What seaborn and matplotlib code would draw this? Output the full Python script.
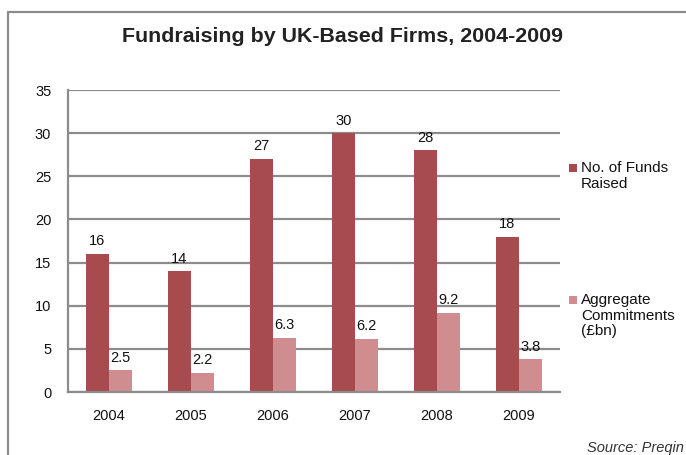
import matplotlib
matplotlib.use("Agg")
import matplotlib.pyplot as plt
from matplotlib.patches import Rectangle
import seaborn as sns
import pandas as pd
import numpy as np

years = ["2004", "2005", "2006", "2007", "2008", "2009"]
funds_raised = [16, 14, 27, 30, 28, 18]
commitments = [2.5, 2.2, 6.3, 6.2, 9.2, 3.8]
series_names = ["No. of Funds\nRaised", "Aggregate\nCommitments\n(£bn)"]
colors = ["#A84B4E", "#CF8D90"]
yticks = [0, 5, 10, 15, 20, 25, 30, 35]

df = pd.DataFrame({
    "year": years * 2,
    "value": funds_raised + commitments,
    "series": [series_names[0]] * len(years) + [series_names[1]] * len(years),
})

sns.set_style("white")
plt.rcParams["font.family"] = ["Liberation Sans", "DejaVu Sans"]

fig = plt.figure(figsize=(6.86, 4.55), dpi=100)
ax = fig.add_axes([68 / 686, 1 - 392 / 455, (560 - 68) / 686, (392 - 90) / 455])

sns.barplot(data=df, x="year", y="value", hue="series", palette=colors,
            width=0.57, gap=0, ax=ax, legend=False, saturation=1,
            edgecolor="none", linewidth=0)

for cont in ax.containers:
    labels = [("%g" % v) for v in cont.datavalues]
    ax.bar_label(cont, labels=labels, padding=4, fontsize=10.5, color="#111111")

grid_c = "#8C8C8C"
ax.set_ylim(0, 35)
ax.set_xlim(-0.5, len(years) - 0.5)
ax.set_yticks(yticks)
ax.set_yticklabels([str(t) for t in yticks], fontsize=10.5)
ax.yaxis.grid(True, color=grid_c, linewidth=1.6)
ax.set_axisbelow(True)
ax.set_xlabel("")
ax.set_ylabel("")
for s in ["top", "right"]:
    ax.spines[s].set_visible(False)
for s in ["left", "bottom"]:
    ax.spines[s].set_color(grid_c)
    ax.spines[s].set_linewidth(1.6)
ax.tick_params(axis="y", direction="out", length=6, width=1.6, color=grid_c, pad=6, labelcolor="#111111")
ax.tick_params(axis="x", which="major", length=0, pad=12, labelsize=10.5, labelcolor="#111111")
ax.set_xticks(np.arange(-0.5, len(years), 1.0), minor=True)
ax.tick_params(axis="x", which="minor", direction="out", length=6, width=1.6, color=grid_c)

fig.text(0.5, 1 - 37 / 455, "Fundraising by UK-Based Firms, 2004-2009",
         ha="center", va="center", fontsize=15.4, fontweight="bold", color="#222222")

# legend (manual, handle aligned with first text line)
leg_items = [(series_names[0], 164), (series_names[1], 296)]
for (name, ytop), col in zip(leg_items, colors):
    fig.patches.append(Rectangle((569 / 686, 1 - (ytop + 8) / 455), 8 / 686, 8 / 455,
                                 transform=fig.transFigure, facecolor=col, edgecolor="none"))
    fig.text(581 / 686, 1 - (ytop - 3) / 455, name, ha="left", va="top",
             fontsize=11, color="#111111", linespacing=1.15)

fig.text(0.997, 1 - 448 / 455, "Source: Preqin", ha="right", va="center",
         fontsize=10.5, style="italic", color="#333333")

# outer frame
fig.patches.append(Rectangle((8 / 686, -0.1), 1.2, 1 - 12 / 455 + 0.1,
                             transform=fig.transFigure, facecolor="none",
                             edgecolor="#8C8C8C", linewidth=1.6, clip_on=False))

fig.savefig("out.png", dpi=100)
